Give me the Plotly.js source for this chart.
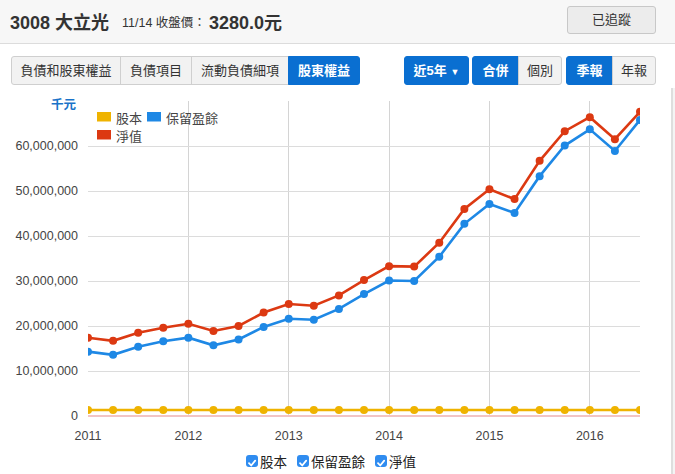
<!DOCTYPE html>
<html><head><meta charset="utf-8">
<script src="https://cdn.plot.ly/plotly-3.0.1.min.js"></script>
<style>
html,body{margin:0;padding:0;background:#fff;width:675px;height:474px;overflow:hidden;font-family:"Liberation Sans","Noto Sans CJK TC",sans-serif;color:#333;}
#hdr{position:absolute;left:0;top:0;width:675px;height:43px;background:#f7f7f7;border-bottom:1px solid #dcdcdc;z-index:3;}
.abs{position:absolute;z-index:4;}
.btn{position:absolute;z-index:4;box-sizing:border-box;height:29px;top:56px;border:1px solid #cfcfcf;background:#f2f2f2;font-size:13px;line-height:27px;text-align:center;color:#333;}
.on{background:#0a6fd1;border-color:#0a6fd1;color:#fff;font-weight:bold;}
#plot{position:absolute;left:0;top:0;width:675px;height:474px;z-index:1;}
#edge{position:absolute;left:671px;top:88px;width:2px;height:386px;background:#dedede;z-index:2;}
#edge2{position:absolute;left:673px;top:88px;width:2px;height:386px;background:#f4f4f4;z-index:2;}
.cb{position:absolute;z-index:4;width:12px;height:12px;border-radius:3px;background:#2f8cf0;top:455px;}
.cbl{position:absolute;z-index:4;top:452px;font-size:13.5px;color:#222;font-family:"Noto Sans CJK TC",sans-serif;line-height:18px;}
</style></head>
<body>
<div id="plot"></div>
<div id="edge"></div><div id="edge2"></div>
<div id="hdr">
  <div class="abs" style="left:10px;top:8px;font-size:18px;font-weight:bold;color:#333;">3008 大立光</div>
  <div class="abs" style="left:122px;top:12px;font-size:12.5px;color:#333;">11/14 收盤價：</div>
  <div class="abs" style="left:209px;top:8px;font-size:18px;font-weight:bold;color:#333;">3280.0元</div>
  <div class="abs" style="left:567px;top:6px;width:89px;height:28px;box-sizing:border-box;border:1px solid #c8c8c8;border-radius:3px;background:#ececec;font-size:13px;line-height:26px;text-align:center;">已追蹤</div>
</div>
<div class="btn" style="left:11px;width:110px;border-radius:3px 0 0 3px;">負債和股東權益</div>
<div class="btn" style="left:120px;width:72px;">負債項目</div>
<div class="btn" style="left:191px;width:98px;">流動負債細項</div>
<div class="btn on" style="left:288px;width:72px;border-radius:0 3px 3px 0;">股東權益</div>
<div class="btn on" style="left:404px;width:65px;border-radius:3px;">近5年 <span style="font-size:9px;">▼</span></div>
<div class="btn on" style="left:472px;width:47px;border-radius:3px 0 0 3px;">合併</div>
<div class="btn" style="left:518px;width:44px;border-radius:0 3px 3px 0;">個別</div>
<div class="btn on" style="left:566px;width:47px;border-radius:3px 0 0 3px;">季報</div>
<div class="btn" style="left:612px;width:44px;border-radius:0 3px 3px 0;">年報</div>
<div id="bottomLegend"></div>
<script>
// ---- data (單位：千元) ----
var quarters = [2011.00, 2011.25, 2011.50, 2011.75, 2012.00, 2012.25, 2012.50, 2012.75,
                2013.00, 2013.25, 2013.50, 2013.75, 2014.00, 2014.25, 2014.50, 2014.75,
                2015.00, 2015.25, 2015.50, 2015.75, 2016.00, 2016.25, 2016.50];
var seriesNames = ["股本", "保留盈餘", "淨值"];
var capital = [1340000, 1340000, 1340000, 1340000, 1340000, 1340000, 1340000, 1340000,
               1340000, 1340000, 1340000, 1340000, 1340000, 1340000, 1340000, 1340000,
               1340000, 1340000, 1340000, 1340000, 1340000, 1340000, 1340000];
var retained = [14300000, 13600000, 15400000, 16600000, 17400000, 15700000, 17000000, 19800000,
                21600000, 21400000, 23800000, 27100000, 30100000, 30000000, 35400000, 42700000,
                47100000, 45100000, 53300000, 60100000, 63700000, 58900000, 65800000];
var equity = [17400000, 16700000, 18500000, 19600000, 20500000, 18900000, 20000000, 23000000,
              24900000, 24500000, 26800000, 30200000, 33300000, 33200000, 38500000, 46000000,
              50400000, 48200000, 56700000, 63300000, 66400000, 61500000, 67600000];
var yearTicks = [2011, 2012, 2013, 2014, 2015, 2016];
var yearLabels = ["2011", "2012", "2013", "2014", "2015", "2016"];
var yTicks = [0, 10000000, 20000000, 30000000, 40000000, 50000000, 60000000, 70000000];
var unitLabel = "千元";

var colors = ["#efb300", "#1e88e5", "#dc3912"];
var values = [capital, retained, equity];

var traces = values.map(function (v, i) {
  return {
    x: quarters, y: v, name: seriesNames[i], type: "scatter", mode: "lines+markers",
    line: {color: colors[i], width: 2.6}, marker: {color: colors[i], size: 8},
    showlegend: false, hoverinfo: "none"
  };
});

// pixel helpers for plot-area layout (plot area: x 88..640, y 101..416)
var L = 88, R = 640, T = 101, B = 416;
function px(p) { return (p - L) / (R - L); }
function py(p) { return (B - p) / (B - T); }

var shapes = [], annotations = [];
// in-chart legend
var legPos = [[97, 112, 114, 117], [147, 112, 164, 117], [97, 130, 114, 135]];
legPos.forEach(function (p, i) {
  shapes.push({type: "rect", xref: "paper", yref: "paper", x0: px(p[0]), x1: px(p[0] + 14),
               y0: py(p[1] + 9.5), y1: py(p[1]), fillcolor: colors[i], line: {width: 0}});
  annotations.push({xref: "paper", yref: "paper", x: px(p[2]), y: py(p[3]), xanchor: "left",
               yanchor: "middle", text: seriesNames[i], showarrow: false,
               font: {size: 13, color: "#444", family: "Noto Sans CJK TC"}});
});
annotations.push({xref: "paper", yref: "paper", x: px(79), y: py(104), xanchor: "right", yanchor: "middle",
                  text: "<b>" + unitLabel + "</b>", showarrow: false,
                  font: {size: 12.5, color: "#1a73c9", family: "Noto Sans CJK TC"}});

var layout = {
  width: 675, height: 474,
  margin: {l: L, r: 675 - R, t: T, b: 474 - B, pad: 0},
  paper_bgcolor: "rgba(0,0,0,0)", plot_bgcolor: "rgba(0,0,0,0)",
  font: {family: "Liberation Sans, Noto Sans CJK TC, sans-serif", color: "#444", size: 12.5},
  xaxis: {range: [2011, 2016.5], tickvals: yearTicks, ticktext: yearLabels, showgrid: true,
          gridcolor: "#d4d4d4", gridwidth: 1, zeroline: false, showline: false, ticks: "",
          ticklabelstandoff: 10, fixedrange: true},
  yaxis: {range: [0, 70000000], tickvals: yTicks, tickformat: ",d", showgrid: true,
          gridcolor: "#dcdcdc", gridwidth: 1, zeroline: true, zerolinecolor: "#f2c4c4", zerolinewidth: 1.5,
          showline: false, ticks: "", ticklabelstandoff: 9, fixedrange: true},
  shapes: shapes, annotations: annotations, showlegend: false
};
// hide the 70,000,000 label (top gridline only)
layout.yaxis.ticktext = yTicks.map(function (t) { return t === 70000000 ? "" : t.toLocaleString("en-US"); });

Plotly.newPlot("plot", traces, layout, {displayModeBar: false, staticPlot: true});

// bottom legend with checkboxes
var bl = document.getElementById("bottomLegend");
var cbX = [246, 297, 375];
seriesNames.forEach(function (n, i) {
  var c = document.createElement("div");
  c.className = "cb"; c.style.left = cbX[i] + "px";
  c.innerHTML = '<svg width="12" height="12" viewBox="0 0 12 12"><polyline points="3,6.2 5.2,8.5 9.2,3.6" fill="none" stroke="#fff" stroke-width="1.8" stroke-linecap="round" stroke-linejoin="round"/></svg>';
  bl.appendChild(c);
  var t = document.createElement("div");
  t.className = "cbl"; t.style.left = (cbX[i] + 14) + "px"; t.textContent = n;
  bl.appendChild(t);
});
</script>
</body></html>
